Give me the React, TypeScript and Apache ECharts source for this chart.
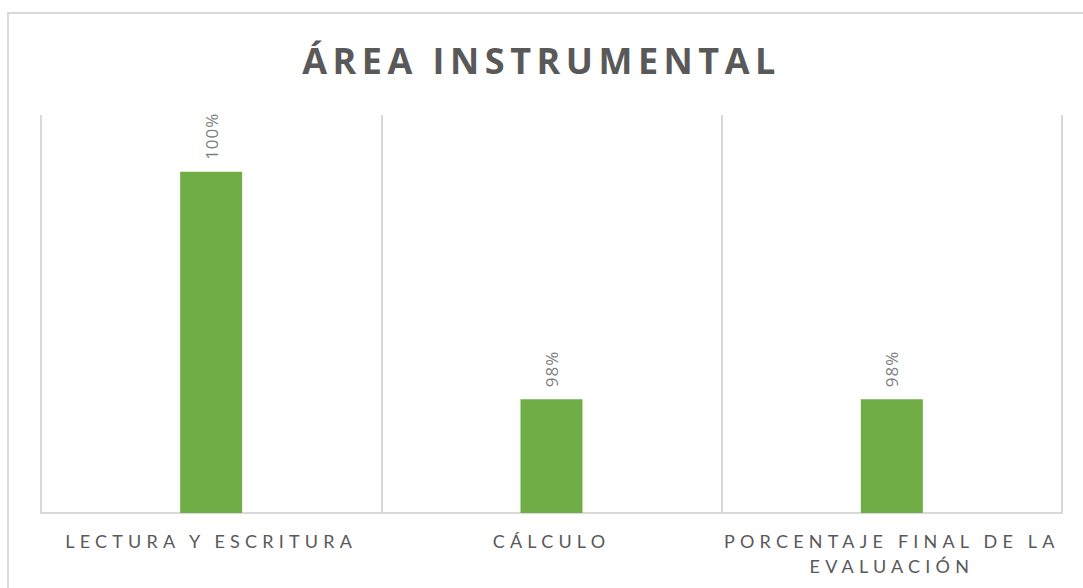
import React, { useEffect, useRef } from "react";
import * as echarts from "echarts";

const TITLE = "ÁREA INSTRUMENTAL";
const categories = ["LECTURA Y ESCRITURA", "CÁLCULO", "PORCENTAJE FINAL DE LA EVALUACIÓN"];
const values = [100, 98, 98];
const valueLabels = ["100%", "98%", "98%"];
const yMin = 97;
const yMax = 100.5;

const css = `
text[style*="36px"] { letter-spacing: 5.5px; }
text[style*="18px"] { letter-spacing: 5.2px; }
text[style*="17px"] { letter-spacing: 1px; }
`;

export default function App() {
  const ref = useRef<HTMLDivElement>(null);
  useEffect(() => {
    if (!ref.current) return;
    const chart = echarts.init(ref.current, undefined, { renderer: "svg" });
    chart.setOption({
      animation: false,
      backgroundColor: "#ffffff",
      title: {
        text: TITLE,
        left: "center",
        top: 37,
        textStyle: {
          fontFamily: "'Open Sans', sans-serif",
          fontSize: 36,
          fontWeight: "bold",
          color: "#595959",
        },
      },
      graphic: [
        {
          type: "rect",
          shape: { x: 8, y: 13, width: 1100, height: 600 },
          style: { fill: "none", stroke: "#d9d9d9", lineWidth: 2 },
          silent: true,
        },
      ],
      grid: { left: 41, right: 21, top: 115, bottom: 75, containLabel: false },
      xAxis: {
        type: "category",
        data: categories,
        axisLine: { show: true, lineStyle: { color: "#d9d9d9", width: 2 } },
        axisTick: { show: false },
        splitLine: { show: true, interval: 0, lineStyle: { color: "#d9d9d9", width: 2 } },
        axisLabel: {
          interval: 0,
          margin: 15,
          fontFamily: "Lato, 'Open Sans', sans-serif",
          fontSize: 18,
          color: "#595959",
          lineHeight: 25,
          formatter: (v: string) => v.replace(" EVALUACIÓN", "\nEVALUACIÓN"),
        },
      },
      yAxis: {
        type: "value",
        min: yMin,
        max: yMax,
        show: false,
        splitLine: { show: false },
      },
      series: [
        {
          type: "bar",
          data: values,
          barWidth: 62,
          itemStyle: { color: "#70ad47" },
          label: {
            show: true,
            position: "top",
            distance: 12,
            rotate: 90,
            align: "left",
            verticalAlign: "middle",
            fontFamily: "'Open Sans', sans-serif",
            fontSize: 17,
            color: "#808080",
            formatter: (p: any) => valueLabels[p.dataIndex],
          },
        },
      ],
    });
    return () => chart.dispose();
  }, []);
  return (
    <>
      <style>{css}</style>
      <div
        ref={ref}
        style={{ position: "fixed", left: 0, top: 0, width: 1083, height: 588 }}
      />
    </>
  );
}
